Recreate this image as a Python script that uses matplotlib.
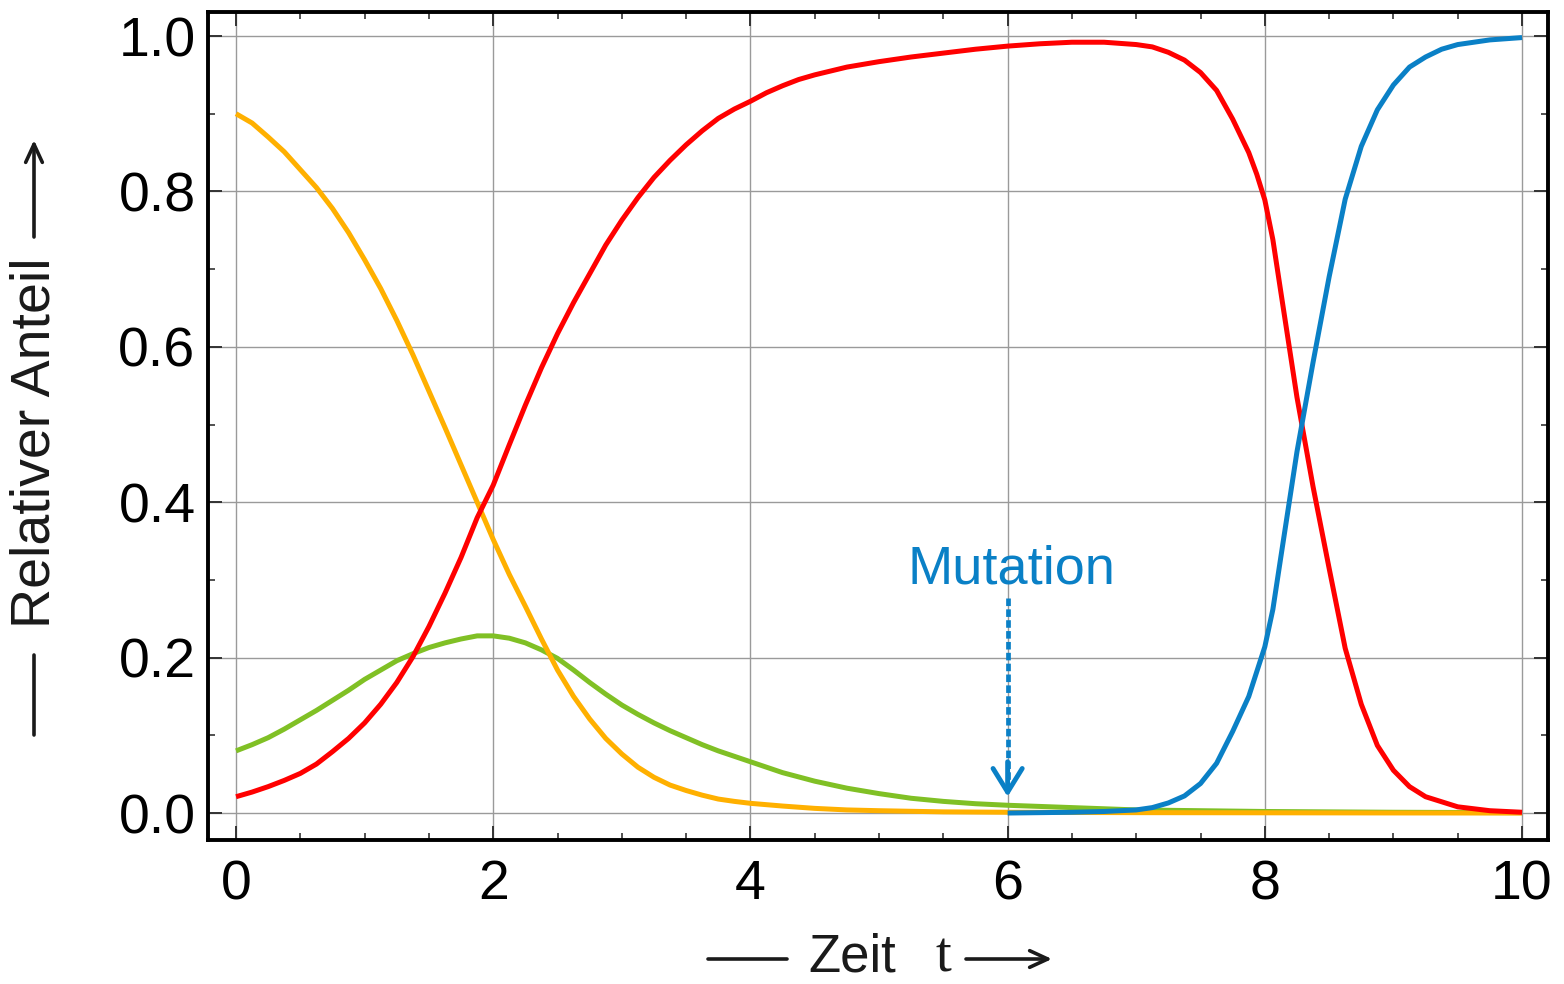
import matplotlib
matplotlib.use("Agg")
import matplotlib.pyplot as plt
from matplotlib.ticker import MultipleLocator, FormatStrFormatter

# values (finer steps where the curves bend)
t_orange = [0, 0.125, 0.25, 0.375, 0.5, 0.625, 0.75, 0.875, 1.0, 1.125, 1.25, 1.375, 1.5,
            1.625, 1.75, 1.875, 2.0, 2.125, 2.25, 2.375, 2.5, 2.625, 2.75, 2.875, 3.0, 3.125,
            3.25, 3.375, 3.5, 3.625, 3.75, 3.875, 4.0, 4.25, 4.5, 4.75, 5.0, 5.5, 6.0, 7.0,
            8.0, 9.0, 10.0]
orange = [0.900, 0.888, 0.870, 0.851, 0.828, 0.805, 0.778, 0.747, 0.712, 0.675, 0.634, 0.590,
          0.543, 0.496, 0.448, 0.400, 0.352, 0.307, 0.266, 0.224, 0.184, 0.150, 0.121, 0.096,
          0.076, 0.059, 0.046, 0.036, 0.029, 0.023, 0.018, 0.015, 0.0125, 0.009, 0.006, 0.004,
          0.003, 0.0015, 0.001, 0.0005, 0.0003, 0.0001, 0.0]

t_green = [0, 0.125, 0.25, 0.375, 0.5, 0.625, 0.75, 0.875, 1.0, 1.125, 1.25, 1.375, 1.5,
           1.625, 1.75, 1.875, 2.0, 2.125, 2.25, 2.375, 2.5, 2.625, 2.75, 2.875, 3.0, 3.125,
           3.25, 3.375, 3.5, 3.625, 3.75, 3.875, 4.0, 4.25, 4.5, 4.75, 5.0, 5.25, 5.5, 5.75,
           6.0, 6.5, 7.0, 7.5, 8.0, 9.0, 10.0]
green = [0.080, 0.088, 0.097, 0.108, 0.120, 0.132, 0.145, 0.158, 0.172, 0.184, 0.196, 0.205,
         0.213, 0.219, 0.224, 0.228, 0.228, 0.225, 0.219, 0.210, 0.199, 0.184, 0.168, 0.153,
         0.139, 0.127, 0.116, 0.106, 0.097, 0.088, 0.080, 0.073, 0.066, 0.052, 0.041, 0.032,
         0.025, 0.019, 0.015, 0.012, 0.010, 0.007, 0.004, 0.003, 0.002, 0.001, 0.0005]

t_red = [0, 0.125, 0.25, 0.375, 0.5, 0.625, 0.75, 0.875, 1.0, 1.125, 1.25, 1.375, 1.5, 1.625,
         1.75, 1.875, 2.0, 2.125, 2.25, 2.375, 2.5, 2.625, 2.75, 2.875, 3.0, 3.125, 3.25,
         3.375, 3.5, 3.625, 3.75, 3.875, 4.0, 4.125, 4.25, 4.375, 4.5, 4.75, 5.0, 5.25, 5.5,
         5.75, 6.0, 6.25, 6.5, 6.75, 7.0, 7.125, 7.25, 7.375, 7.5, 7.625, 7.75, 7.875,
         7.9375, 8.0, 8.0625, 8.125, 8.25, 8.375, 8.5, 8.625, 8.75, 8.875, 9.0, 9.125, 9.25,
         9.5, 9.75, 10.0]
red = [0.021, 0.027, 0.034, 0.042, 0.051, 0.063, 0.079, 0.096, 0.116, 0.140, 0.168, 0.201,
       0.240, 0.283, 0.329, 0.380, 0.422, 0.474, 0.525, 0.573, 0.617, 0.657, 0.694, 0.731,
       0.763, 0.792, 0.818, 0.840, 0.860, 0.878, 0.894, 0.906, 0.916, 0.927, 0.936, 0.944,
       0.950, 0.960, 0.967, 0.973, 0.978, 0.983, 0.987, 0.990, 0.992, 0.992, 0.989, 0.986,
       0.979, 0.969, 0.953, 0.930, 0.893, 0.850, 0.822, 0.789, 0.738, 0.670, 0.535, 0.420,
       0.315, 0.212, 0.140, 0.087, 0.055, 0.034, 0.021, 0.008, 0.003, 0.001]

t_blue = [6.0, 6.5, 6.75, 7.0, 7.125, 7.25, 7.375, 7.5, 7.625, 7.75, 7.875, 8.0, 8.0625,
          8.125, 8.25, 8.375, 8.5, 8.625, 8.75, 8.875, 9.0, 9.125, 9.25, 9.375, 9.5, 9.75, 10.0]
blue = [0.0, 0.001, 0.002, 0.004, 0.007, 0.013, 0.022, 0.038, 0.064, 0.105, 0.150, 0.214,
        0.262, 0.330, 0.465, 0.580, 0.690, 0.790, 0.858, 0.905, 0.937, 0.960, 0.973, 0.983,
        0.989, 0.995, 0.998]

t_mutation = 6.0
mut_top = 0.277
mut_tip = 0.021

c_orange = "#FFB000"
c_green = "#80C025"
c_red = "#FF0000"
c_blue = "#0A80C6"
c_text = "#1a1a1a"

W, H = 1564, 984
plt.rcParams["font.family"] = ["Liberation Sans", "DejaVu Sans"]

fig = plt.figure(figsize=(W / 100, H / 100), dpi=100)
ax = fig.add_axes([208 / W, 1 - 840 / H, (1548 - 208) / W, (840 - 12) / H])

lw = 3.6
ax.plot(t_green, green, color=c_green, lw=lw, solid_capstyle="butt", solid_joinstyle="round")
ax.plot(t_orange, orange, color=c_orange, lw=lw, solid_capstyle="butt", solid_joinstyle="round")
ax.plot(t_red, red, color=c_red, lw=lw, solid_capstyle="butt", solid_joinstyle="round")
ax.plot(t_blue, blue, color=c_blue, lw=lw, solid_capstyle="butt", solid_joinstyle="round")

# mutation marker: dashed shaft + open arrow head
ax.plot([t_mutation, t_mutation], [mut_top, mut_tip + 0.02], color=c_blue, lw=3.4,
        linestyle=(0, (1.6, 0.7)))
ax.annotate("", xy=(t_mutation, mut_tip), xytext=(t_mutation, mut_tip + 0.045),
            arrowprops=dict(arrowstyle="->,head_length=1.7,head_width=1.05", color=c_blue,
                            lw=3.5, mutation_scale=10, shrinkA=0, shrinkB=0))
ax.text(6.03, 0.296, "Mutation", color=c_blue, fontsize=39, ha="center", va="baseline")

ax.set_xlim(-0.218, 10.202)
ax.set_ylim(-0.0347, 1.0309)
ax.xaxis.set_major_locator(MultipleLocator(2))
ax.xaxis.set_minor_locator(MultipleLocator(0.5))
ax.yaxis.set_major_locator(MultipleLocator(0.2))
ax.yaxis.set_minor_locator(MultipleLocator(0.1))
ax.xaxis.set_major_formatter(FormatStrFormatter("%d"))
ax.yaxis.set_major_formatter(FormatStrFormatter("%.1f"))

ax.tick_params(which="both", direction="in", top=True, right=True, colors="#333333",
               labelcolor="black", labelsize=40)
ax.tick_params(which="major", length=10, width=1.4)
ax.tick_params(which="minor", length=5, width=1.2)
ax.tick_params(axis="x", pad=14)
ax.tick_params(axis="y", pad=9)

ax.grid(True, which="major", color="#9a9a9a", lw=1.0)
ax.set_axisbelow(True)
for s in ax.spines.values():
    s.set_linewidth(2.8)
    s.set_color("black")

# x label: "— Zeit  t ⟶"
yx = H - 959
base = H - 971
ax.annotate("", xy=(787, yx), xytext=(708, yx), xycoords="figure pixels",
            arrowprops=dict(arrowstyle="-", lw=2.6, color=c_text, shrinkA=0, shrinkB=0))
fig.text(808 / W, base / H, "Zeit", fontsize=38, ha="left", va="baseline", color=c_text)
fig.text(943 / W, base / H, "t", fontsize=41, ha="center", va="baseline", color=c_text,
         family="Liberation Serif")
ax.annotate("", xy=(1052, yx), xytext=(966, yx), xycoords="figure pixels",
            arrowprops=dict(arrowstyle="->,head_length=1.3,head_width=0.6", lw=2.6,
                            color=c_text, mutation_scale=10, shrinkA=0, shrinkB=0))

# y label: "— Relativer Anteil ⟶"
xy_ = 34
ax.annotate("", xy=(xy_, H - 655), xytext=(xy_, H - 735), xycoords="figure pixels",
            arrowprops=dict(arrowstyle="-", lw=2.6, color=c_text, shrinkA=0, shrinkB=0))
fig.text((xy_ + 2) / W, 1 - 443 / H, "Relativer Anteil", fontsize=40, rotation=90,
         ha="center", va="center", color=c_text)
ax.annotate("", xy=(xy_, H - 140), xytext=(xy_, H - 237), xycoords="figure pixels",
            arrowprops=dict(arrowstyle="->,head_length=1.3,head_width=0.6", lw=2.6,
                            color=c_text, mutation_scale=10, shrinkA=0, shrinkB=0))

fig.savefig("out.png", dpi=100)
